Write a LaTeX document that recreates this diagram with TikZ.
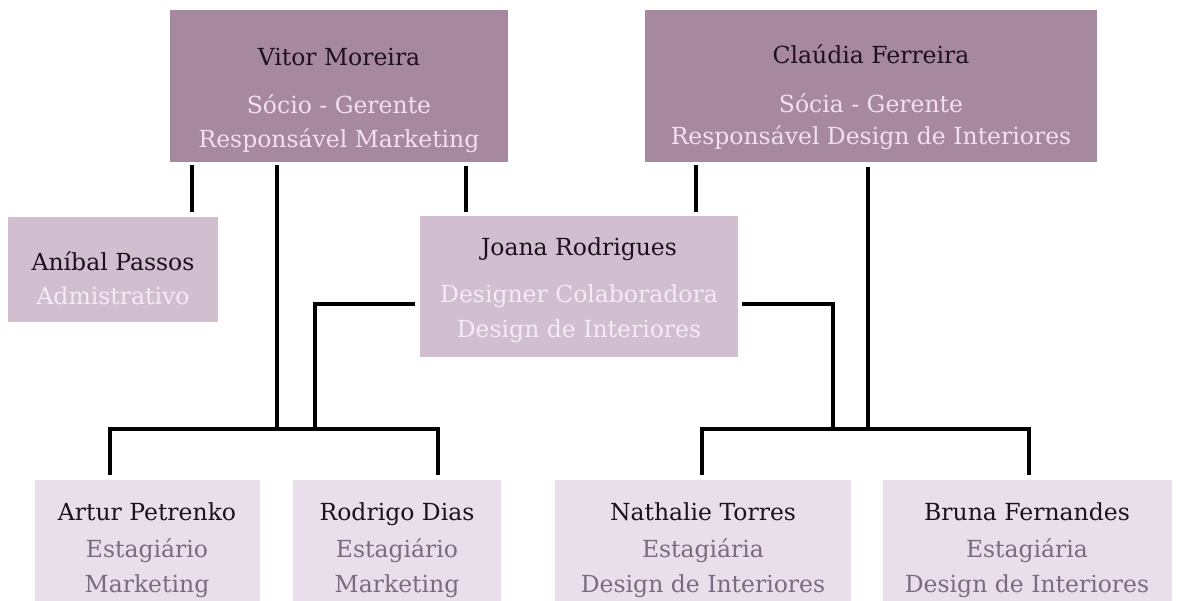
\documentclass[tikz,border=0pt]{standalone}
\usepackage{fontspec}
\setmainfont{DejaVu Serif}
\definecolor{topc}{HTML}{A6889F}
\definecolor{midc}{HTML}{D1BFD0}
\definecolor{lowc}{HTML}{E8DFEA}
\definecolor{namec}{HTML}{1E1020}
\definecolor{topsub}{HTML}{F2E0F0}
\definecolor{midsub}{HTML}{F5EBF5}
\definecolor{lowsub}{HTML}{7B6B80}
\begin{document}
\begin{tikzpicture}[x=1pt,y=-1pt,
  box/.style={draw=none, anchor=north west, inner sep=0pt, outer sep=0pt},
  topbox/.style={box, fill=topc},
  midbox/.style={box, fill=midc},
  lowbox/.style={box, fill=lowc},
  txt/.style={anchor=base, inner sep=0pt, font=\fontsize{23.5}{28}\selectfont},
  nm/.style={txt, text=namec},
  ts/.style={txt, text=topsub},
  ms/.style={txt, text=midsub},
  ls/.style={txt, text=lowsub},
  conn/.style={draw=black, line width=3.2pt, line join=miter}]
\useasboundingbox (0,0) rectangle (1180,600);

% boxes
\node[topbox, minimum width=338pt, minimum height=152pt] (vitor) at (170,10) {};
\node[topbox, minimum width=452pt, minimum height=152pt] (claudia) at (645,10) {};
\node[midbox, minimum width=210pt, minimum height=105pt] (anibal) at (8,217) {};
\node[midbox, minimum width=318pt, minimum height=141pt] (joana) at (420,216) {};
\node[lowbox, minimum width=225pt, minimum height=125pt] (artur) at (35,480) {};
\node[lowbox, minimum width=208pt, minimum height=125pt] (rodrigo) at (293,480) {};
\node[lowbox, minimum width=296pt, minimum height=125pt] (nathalie) at (555,480) {};
\node[lowbox, minimum width=289pt, minimum height=125pt] (bruna) at (883,480) {};

% texts
\node[nm] (vitorA) at (339,65) {Vitor Moreira};
\node[ts] (vitorB) at (339,113) {Sócio - Gerente};
\node[ts] (vitorC) at (339,147) {Responsável Marketing};

\node[nm] (claudiaA) at (871,63) {Claúdia Ferreira};
\node[ts] (claudiaB) at (871,112) {Sócia - Gerente};
\node[ts] (claudiaC) at (871,144) {Responsável Design de Interiores};

\node[nm] (anibalA) at (113,270) {Aníbal Passos};
\node[ms] (anibalB) at (113,304) {Admistrativo};

\node[nm] (joanaA) at (579,255) {Joana Rodrigues};
\node[ms] (joanaB) at (579,302) {Designer Colaboradora};
\node[ms] (joanaC) at (579,337) {Design de Interiores};

\node[nm] (arturA) at (147,520) {Artur Petrenko};
\node[ls] (arturB) at (147,557) {Estagiário};
\node[ls] (arturC) at (147,592) {Marketing};

\node[nm] (rodrigoA) at (397,520) {Rodrigo Dias};
\node[ls] (rodrigoB) at (397,557) {Estagiário};
\node[ls] (rodrigoC) at (397,592) {Marketing};

\node[nm] (nathalieA) at (703,520) {Nathalie Torres};
\node[ls] (nathalieB) at (703,557) {Estagiária};
\node[ls] (nathalieC) at (703,592) {Design de Interiores};

\node[nm] (brunaA) at (1027,520) {Bruna Fernandes};
\node[ls] (brunaB) at (1027,557) {Estagiária};
\node[ls] (brunaC) at (1027,592) {Design de Interiores};

% junction coordinates
\coordinate (xA) at (192,0);
\coordinate (xJ1) at (466,0);
\coordinate (xJ2) at (696,0);
\coordinate (bl) at (110,429);
\coordinate (br) at (438,429);
\coordinate (vt) at (277,429);
\coordinate (nl) at (702,429);
\coordinate (nr) at (1029,429);
\coordinate (ct) at (868,429);
\coordinate (jl) at (315,304);
\coordinate (jr) at (833,304);

% connectors
\draw[conn, shorten <=3pt, shorten >=5pt] (vitor.south -| xA) -- (anibal.north -| xA);
\draw[conn, shorten <=4pt, shorten >=4pt] (vitor.south -| xJ1) -- (joana.north -| xJ1);
\draw[conn, shorten <=3pt, shorten >=4pt] (claudia.south -| xJ2) -- (joana.north -| xJ2);
\draw[conn, shorten <=3pt] (vitor.south -| vt) -- (vt);
\draw[conn, shorten <=5pt] (claudia.south -| ct) -- (ct);
\draw[conn, shorten <=5pt, shorten >=5pt] (artur.north -| bl) -- (bl) -- (br) -- (rodrigo.north -| br);
\draw[conn, shorten <=5pt, shorten >=5pt] (nathalie.north -| nl) -- (nl) -- (nr) -- (bruna.north -| nr);
\draw[conn, shorten <=5pt] (joana.west |- jl) -- (jl) -- (jl |- bl);
\draw[conn, shorten <=4pt] (joana.east |- jr) -- (jr) -- (jr |- nl);
\end{tikzpicture}
\end{document}
